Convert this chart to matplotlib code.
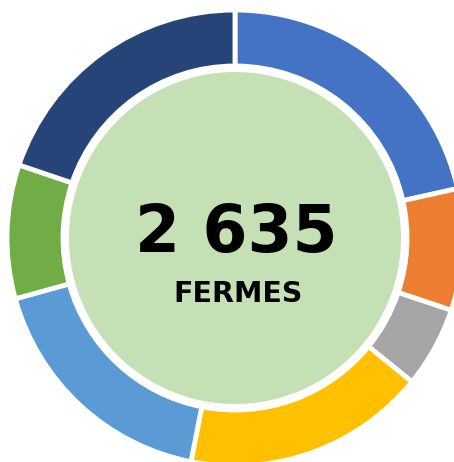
import matplotlib
matplotlib.use("Agg")
import matplotlib.pyplot as plt
from matplotlib.patches import Circle

categories = ["A", "B", "C", "D", "E", "F", "G"]
values = [567, 227, 151, 454, 464, 250, 522]
colors = ["#4472C4", "#ED7D31", "#A5A5A5", "#FFC000", "#5B9BD5", "#70AD47", "#264478"]
total_label = "2 635"
sub_label = "FERMES"

W, H = 454, 462
fig = plt.figure(figsize=(W / 100, H / 100), dpi=100)
ax = fig.add_axes([0, 0, 1, 1])

cx, cy = 235, H - 238
R = 228
ring = 56

ax.pie(values, colors=colors, startangle=90, counterclock=False,
       center=(cx, cy), radius=R,
       wedgeprops=dict(width=ring, edgecolor="white", linewidth=3.5))
ax.add_patch(Circle((cx, cy), 166, facecolor="#C5E0B4", edgecolor="none", zorder=5))

ax.text(cx + 1, H - 252, total_label, ha="center", va="baseline", fontsize=46.5,
        fontweight="bold", family=["DejaVu Sans"], color="black", zorder=6)
ax.text(cx + 3, H - 302, sub_label, ha="center", va="baseline", fontsize=20.5,
        fontweight="bold", family=["DejaVu Sans"], color="black", zorder=6)

ax.set_xlim(0, W)
ax.set_ylim(0, H)
ax.set_aspect("equal")
ax.axis("off")
fig.savefig("out.png", dpi=100, facecolor="white")
